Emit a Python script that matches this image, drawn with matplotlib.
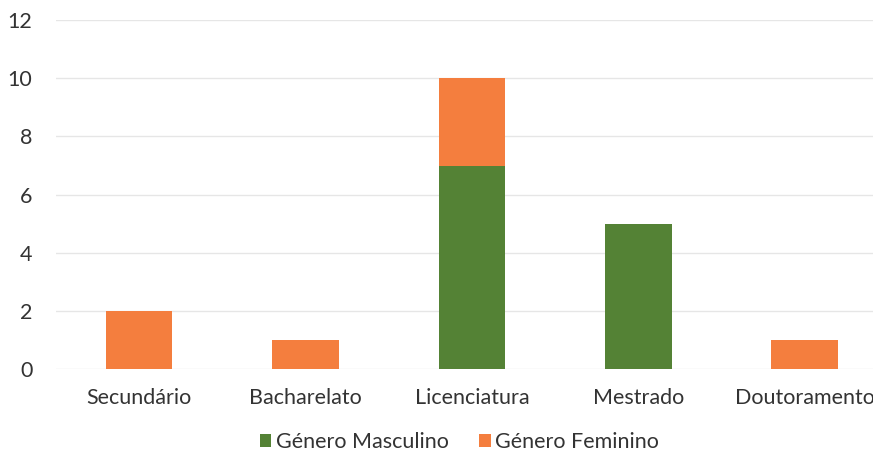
import matplotlib
matplotlib.use("Agg")
import matplotlib.pyplot as plt
import numpy as np

# dados
categorias = ["Secundário", "Bacharelato", "Licenciatura", "Mestrado", "Doutoramento"]
masculino = [0, 0, 7, 5, 0]
feminino = [2, 1, 3, 0, 1]

cor_m = "#548235"
cor_f = "#F47E3E"

plt.rcParams['font.family'] = ['Lato', 'DejaVu Sans']

fig = plt.figure(figsize=(8.73, 4.59), dpi=100)
ax = fig.add_axes([0.064, 0.196, 0.953, 0.760])

x = np.arange(len(categorias))
ax.bar(x, masculino, width=0.4, color=cor_m, label="Género Masculino", zorder=3)
ax.bar(x, feminino, width=0.4, bottom=masculino, color=cor_f, label="Género Feminino", zorder=3)

ax.set_xlim(-0.5, len(categorias) - 0.5)
ax.set_ylim(0, 12)
ax.set_yticks(range(0, 13, 2))
ax.set_xticks(x)
ax.set_xticklabels(categorias, fontsize=15.5, color="#333333")
ax.tick_params(axis="y", labelsize=15.5, colors="#333333", length=0, pad=17)
ax.tick_params(axis="x", length=0, pad=14)
ax.grid(axis="y", color="#e6e6e6", linewidth=1, zorder=0)
for s in ax.spines.values():
    s.set_visible(False)

leg = fig.legend(loc="center", bbox_to_anchor=(0.526, 0.036), ncol=2, frameon=False,
                 fontsize=15.5, handlelength=0.55, handleheight=0.55, handletextpad=0.2,
                 columnspacing=1.4)
for t in leg.get_texts():
    t.set_color("#333333")

fig.savefig("out.png", dpi=100)
